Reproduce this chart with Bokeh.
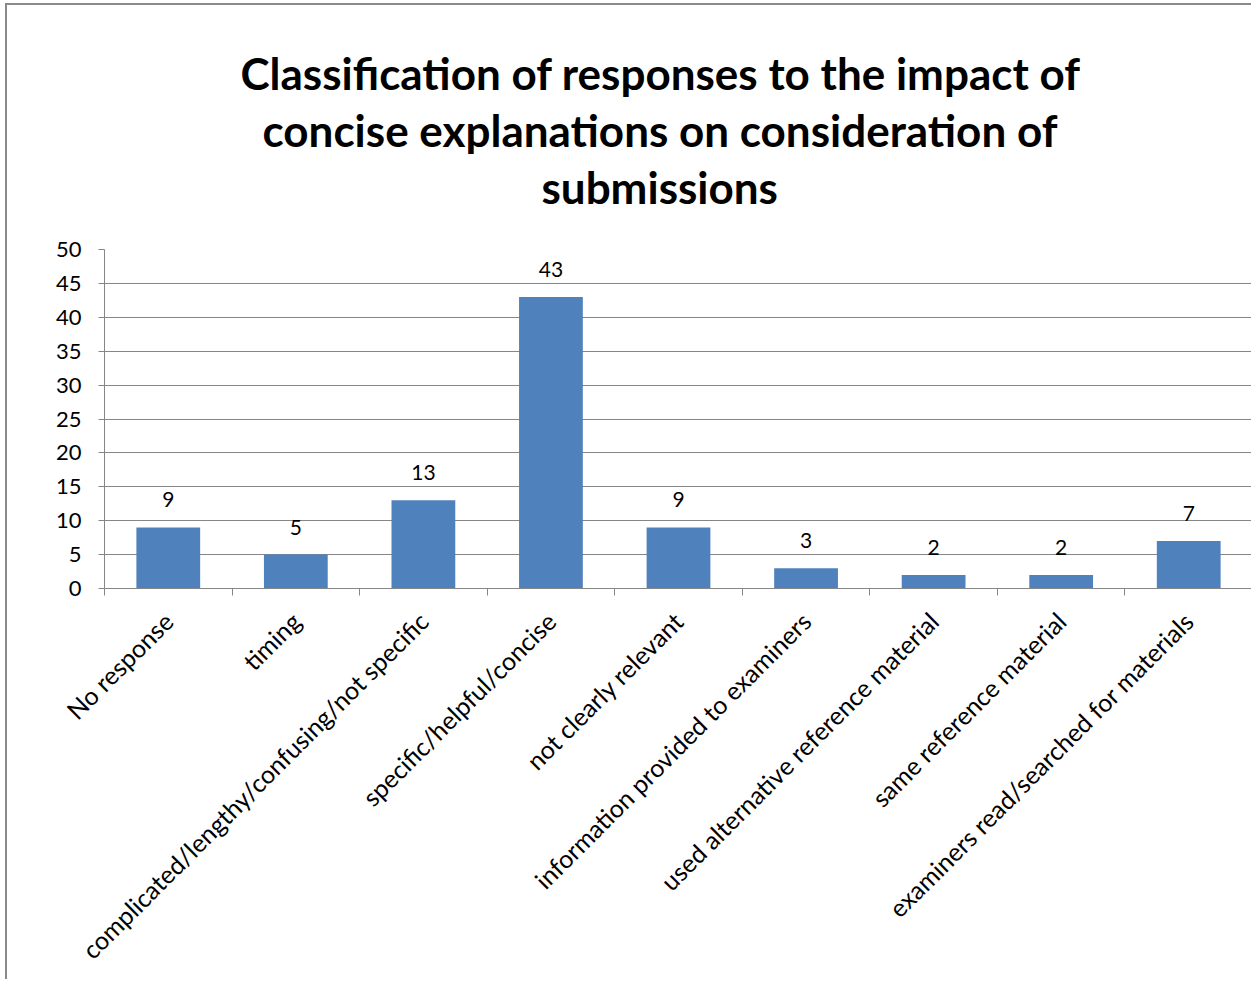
import math
from bokeh.plotting import figure
from bokeh.models import ColumnDataSource, Range1d, FixedTicker, LabelSet, Title
from bokeh.core.properties import value
from bokeh.embed import file_html
from bokeh.resources import INLINE

categories = [
    "No response",
    "timing",
    "complicated/lengthy/confusing/not specific",
    "specific/helpful/concise",
    "not clearly relevant",
    "information provided to examiners",
    "used alternative reference material",
    "same reference material",
    "examiners read/searched for materials",
]
counts = [9, 5, 13, 43, 9, 3, 2, 2, 7]
y_ticks = [0, 5, 10, 15, 20, 25, 30, 35, 40, 45, 50]
title_lines = [
    "Classification of responses to the impact of",
    "concise explanations on consideration of",
    "submissions",
]

FONT = "Lato"
GRAY = "#868686"
BLUE = "#4F81BD"

pos = [i + 0.5 for i in range(len(categories))]
bounds = list(range(len(categories) + 1))
src = ColumnDataSource(dict(x=pos, top=counts, lab=[str(c) for c in counts]))

p = figure(width=1246, height=976, x_range=Range1d(0, len(categories)),
           y_range=Range1d(0, 50), toolbar_location=None, output_backend="svg",
           min_border_left=97, min_border_right=1, min_border_top=244,
           min_border_bottom=393)
p.outline_line_color = None
p.background_fill_color = "white"
p.border_fill_color = "white"
p.styles = {"border-left": "2px solid #8a8a8a", "border-top": "2px solid #8a8a8a",
            "margin-left": "5px", "margin-top": "3px"}

p.vbar(x="x", top="top", width=0.5, source=src, fill_color=BLUE, line_color=None)
p.add_layout(LabelSet(x="x", y="top", text="lab", source=src, y_offset=20,
                      text_align="center", text_baseline="alphabetic",
                      text_font=value(FONT), text_font_size="21px",
                      text_color="black"))

# spacer between last title line and plot frame
p.add_layout(Title(text=" ", align="center", text_font=FONT,
                   text_font_size="8px", standoff=23), "above")
# title lines (innermost added first); left offsets centre each line over the chart area
standoffs = [3, 3, 3]
offsets = [136, 158, 437]
for i in reversed(range(len(title_lines))):
    p.add_layout(Title(text=title_lines[i], align="left", text_font=FONT,
                       text_font_size="44px", text_font_style="bold",
                       text_color="black", standoff=standoffs[i],
                       offset=offsets[i]), "above")

p.xgrid.visible = False
p.ygrid.grid_line_color = GRAY
p.ygrid.grid_line_width = 1

ya = p.yaxis[0]
ya.ticker = FixedTicker(ticks=y_ticks)
ya.axis_line_color = GRAY
ya.major_tick_line_color = GRAY
ya.major_tick_out = 6
ya.major_tick_in = 0
ya.minor_tick_line_color = None
ya.major_label_standoff = 17
ya.major_label_text_font = FONT
ya.major_label_text_font_size = "22px"
ya.major_label_text_color = "black"

xa = p.xaxis[0]
xa.ticker = FixedTicker(ticks=pos, minor_ticks=bounds)
xa.axis_line_color = GRAY
xa.major_tick_line_color = None
xa.major_tick_out = 0
xa.major_tick_in = 0
xa.minor_tick_line_color = GRAY
xa.minor_tick_out = 7
xa.minor_tick_in = 0
xa.major_label_overrides = {pp: c for pp, c in zip(pos, categories)}
xa.major_label_orientation = math.pi / 4
xa.major_label_standoff = 21
xa.major_label_text_font = FONT
xa.major_label_text_font_size = "25px"
xa.major_label_text_color = "black"

open("out.html", "w").write(file_html(p, INLINE))
